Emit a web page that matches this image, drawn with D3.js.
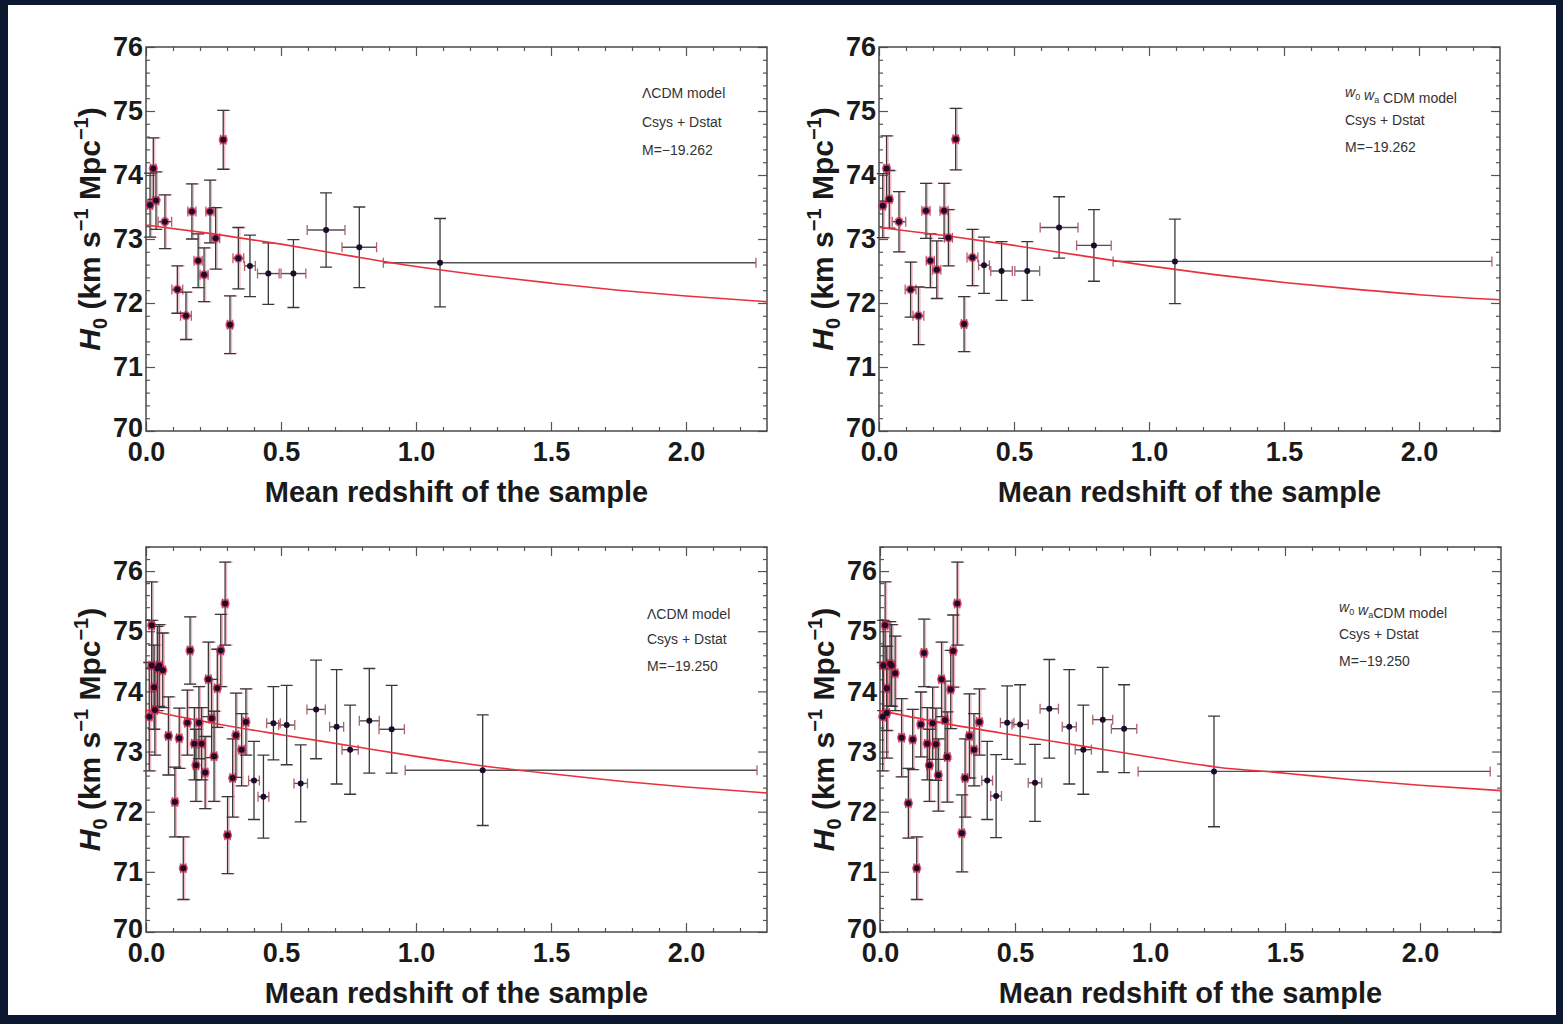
<!DOCTYPE html>
<html>
<head>
<meta charset="utf-8">
<script src="https://cdn.jsdelivr.net/npm/d3@7"></script>
<style>
body { margin: 0; background: #0b1830; }
svg { display: block; }
text { font-family: "Liberation Sans", Arial, sans-serif; }
.tick text { font-size: 27px; font-weight: bold; fill: #1a1a1a; font-family: "Liberation Sans", Arial, sans-serif; }
.tick line { stroke: #555; stroke-width: 1.2; }
.title { font-size: 29px; font-weight: bold; fill: #1a1a1a; }
.ytitle { font-size: 30px; font-weight: bold; fill: #1a1a1a; }
.note { font-size: 14px; fill: #333; }
</style>
</head>
<body>
<div id="chart"></div>
<script>
// tick labels
var xTicks = [0, 0.5, 1.0, 1.5, 2.0],
	yTicks = [70, 71, 72, 73, 74, 75, 76];

// model curve sample points
var curveZ = [0, 0.25, 0.5, 0.75, 1.0, 1.25, 1.5, 1.75, 2.0, 2.3];
var tlCurve = [73.22, 73.08, 72.92, 72.74, 72.57, 72.43, 72.31, 72.2, 72.11, 72.02];
var trCurve = [73.18, 73.05, 72.9, 72.74, 72.58, 72.44, 72.32, 72.22, 72.13, 72.05];
var blCurve = [73.69, 73.47, 73.28, 73.1, 72.92, 72.76, 72.63, 72.51, 72.41, 72.31];
var brCurve = [73.68, 73.46, 73.27, 73.09, 72.91, 72.74, 72.64, 72.53, 72.44, 72.35];

// top-left: LCDM, M=-19.262
var tlZ = [0.015, 0.027, 0.037, 0.07, 0.116, 0.148, 0.17, 0.193, 0.215, 0.237, 0.258, 0.286, 0.311, 0.342, 0.385, 0.453, 0.546, 0.667, 0.79, 1.089];
var tlH = [73.53, 74.1, 73.6, 73.27, 72.21, 71.8, 73.43, 72.66, 72.44, 73.43, 73.01, 74.55, 71.66, 72.7, 72.58, 72.46, 72.46, 73.14, 72.87, 72.63];
var tlErr = [0.5, 0.48, 0.45, 0.42, 0.37, 0.37, 0.43, 0.42, 0.42, 0.49, 0.48, 0.46, 0.45, 0.48, 0.48, 0.48, 0.53, 0.58, 0.63, 0.69];
var tlZlo = [0.01, 0.01, 0.01, 0.025, 0.02, 0.02, 0.015, 0.015, 0.015, 0.015, 0.015, 0.01, 0.01, 0.02, 0.02, 0.04, 0.046, 0.07, 0.064, 0.21];
var tlZhi = [0.01, 0.01, 0.01, 0.025, 0.02, 0.02, 0.015, 0.015, 0.015, 0.015, 0.015, 0.01, 0.01, 0.02, 0.02, 0.04, 0.046, 0.07, 0.064, 1.17];

// top-right: w0 wa CDM, M=-19.262
var trZ = [0.014, 0.028, 0.038, 0.074, 0.117, 0.146, 0.174, 0.19, 0.214, 0.241, 0.257, 0.284, 0.315, 0.346, 0.389, 0.454, 0.549, 0.667, 0.796, 1.096];
var trH = [73.52, 74.1, 73.62, 73.27, 72.21, 71.8, 73.44, 72.66, 72.52, 73.44, 73.02, 74.56, 71.67, 72.71, 72.59, 72.5, 72.5, 73.18, 72.9, 72.65];
var trErr = [0.5, 0.51, 0.45, 0.47, 0.43, 0.45, 0.43, 0.42, 0.45, 0.43, 0.44, 0.48, 0.43, 0.44, 0.44, 0.46, 0.46, 0.48, 0.56, 0.66];
var trZlo = [0.01, 0.01, 0.01, 0.025, 0.02, 0.02, 0.015, 0.015, 0.015, 0.015, 0.015, 0.01, 0.01, 0.02, 0.02, 0.04, 0.046, 0.07, 0.064, 0.229];
var trZhi = [0.01, 0.01, 0.01, 0.025, 0.02, 0.02, 0.015, 0.015, 0.015, 0.015, 0.015, 0.01, 0.01, 0.02, 0.02, 0.04, 0.046, 0.07, 0.064, 1.174];

// bottom-left: LCDM, M=-19.250
var blZ = [0.012, 0.021, 0.021, 0.03, 0.033, 0.042, 0.049, 0.062, 0.083, 0.107, 0.123, 0.138, 0.153, 0.163, 0.179, 0.185, 0.196, 0.206, 0.219, 0.231, 0.243, 0.252, 0.264, 0.277, 0.293, 0.302, 0.321, 0.333, 0.354, 0.37, 0.4, 0.435, 0.472, 0.521, 0.573, 0.63, 0.706, 0.756, 0.827, 0.91, 1.247];
var blH = [73.58, 75.1, 74.43, 74.07, 73.69, 74.38, 74.43, 74.35, 73.26, 72.16, 73.22, 71.06, 73.48, 74.68, 73.13, 72.77, 73.48, 73.13, 72.65, 74.2, 73.55, 72.92, 74.05, 74.68, 75.46, 71.61, 72.56, 73.27, 73.03, 73.49, 72.52, 72.25, 73.47, 73.44, 72.47, 73.7, 73.41, 73.03, 73.51, 73.37, 72.69];
var blErr = [0.9, 0.72, 0.75, 0.7, 0.75, 0.7, 0.68, 0.62, 0.65, 0.58, 0.5, 0.52, 0.54, 0.56, 0.6, 0.6, 0.6, 0.6, 0.6, 0.62, 0.65, 0.75, 0.65, 0.6, 0.69, 0.64, 0.65, 0.7, 0.6, 0.55, 0.65, 0.69, 0.61, 0.66, 0.64, 0.82, 0.95, 0.74, 0.87, 0.73, 0.92];
var blZlo = [0.01, 0.01, 0.01, 0.01, 0.01, 0.01, 0.01, 0.01, 0.01, 0.01, 0.01, 0.01, 0.01, 0.01, 0.01, 0.01, 0.01, 0.01, 0.01, 0.01, 0.01, 0.01, 0.01, 0.01, 0.01, 0.01, 0.01, 0.01, 0.01, 0.01, 0.02, 0.02, 0.025, 0.03, 0.025, 0.034, 0.026, 0.03, 0.037, 0.047, 0.287];
var blZhi = [0.01, 0.01, 0.01, 0.01, 0.01, 0.01, 0.01, 0.01, 0.01, 0.01, 0.01, 0.01, 0.01, 0.01, 0.01, 0.01, 0.01, 0.01, 0.01, 0.01, 0.01, 0.01, 0.01, 0.01, 0.01, 0.01, 0.01, 0.01, 0.01, 0.01, 0.02, 0.02, 0.025, 0.03, 0.025, 0.034, 0.026, 0.03, 0.037, 0.047, 1.016];

// bottom-right: w0 wa CDM, M=-19.250
var brZ = [0.01, 0.019, 0.012, 0.025, 0.025, 0.037, 0.043, 0.056, 0.08, 0.105, 0.121, 0.136, 0.151, 0.163, 0.175, 0.183, 0.195, 0.207, 0.216, 0.228, 0.241, 0.249, 0.262, 0.271, 0.286, 0.303, 0.315, 0.331, 0.348, 0.368, 0.397, 0.43, 0.471, 0.519, 0.574, 0.627, 0.701, 0.753, 0.825, 0.904, 1.237];
var brH = [73.58, 75.1, 74.43, 74.05, 73.64, 74.46, 74.43, 74.3, 73.23, 72.14, 73.2, 71.06, 73.45, 74.64, 73.13, 72.77, 73.47, 73.12, 72.61, 74.2, 73.52, 72.91, 74.03, 74.67, 75.46, 71.64, 72.56, 73.26, 73.03, 73.49, 72.52, 72.26, 73.48, 73.45, 72.48, 73.71, 73.41, 73.03, 73.53, 73.38, 72.67];
var brErr = [0.9, 0.72, 0.75, 0.7, 0.75, 0.7, 0.68, 0.62, 0.65, 0.58, 0.5, 0.52, 0.54, 0.56, 0.6, 0.6, 0.6, 0.6, 0.6, 0.62, 0.65, 0.75, 0.65, 0.6, 0.69, 0.64, 0.65, 0.7, 0.6, 0.55, 0.65, 0.69, 0.61, 0.66, 0.64, 0.82, 0.95, 0.74, 0.87, 0.73, 0.92];
var brZlo = blZlo.slice(0, 40).concat([0.281]);
var brZhi = blZhi.slice(0, 40).concat([1.023]);

// annotation lines ("_x" means subscript)
var tlNotes = ["\u039BCDM model", "Csys + Dstat", "M=\u221219.262"];
var trNotes = ["w_0 w_a CDM model", "Csys + Dstat", " M=\u221219.262"];
var blNotes = ["\u039BCDM model", "Csys + Dstat", "M=\u221219.250"];
var brNotes = ["w_0 w_aCDM model", "Csys + Dstat", "M=\u221219.250"];

var redCut = 0.38; // low-z points are drawn with the red marker underneath

var panels = [
	{left: 146, top: 47, w: 621, h: 384, yTop: 76, zs: tlZ, hs: tlH, err: tlErr, zlo: tlZlo, zhi: tlZhi, curve: tlCurve, notes: tlNotes, nx: 496, ny: [51, 80, 108]},
	{left: 879, top: 47, w: 621, h: 384, yTop: 76, zs: trZ, hs: trH, err: trErr, zlo: trZlo, zhi: trZhi, curve: trCurve, notes: trNotes, nx: 466, ny: [50, 78, 105]},
	{left: 146, top: 547, w: 621, h: 385, yTop: 76.4, zs: blZ, hs: blH, err: blErr, zlo: blZlo, zhi: blZhi, curve: blCurve, notes: blNotes, nx: 501, ny: [72, 97, 124]},
	{left: 880, top: 547, w: 621, h: 385, yTop: 76.4, zs: brZ, hs: brH, err: brErr, zlo: brZlo, zhi: brZhi, curve: brCurve, notes: brNotes, nx: 459, ny: [65, 92, 119]}
];

var svg = d3.select("#chart").append("svg")
	.attr("width", 1563)
	.attr("height", 1024);

svg.append("rect").attr("width", 1563).attr("height", 1024).attr("fill", "#0b1830");
svg.append("rect").attr("x", 8).attr("y", 5).attr("width", 1548).attr("height", 1010).attr("fill", "#fff");

panels.forEach(drawPanel);

function richText(el, str) {
	str.split(/(_\w)/).forEach(function(part) {
		if (!part) return;
		if (part[0] == "_") {
			el.append("tspan").attr("dy", 3).attr("font-size", 9).text(part.slice(1));
			el.append("tspan").attr("dy", -3).text("");
		} else if (part.trim()[0] == "w" && part.trim().length == 1) {
			el.append("tspan").attr("font-style", "italic").text(part);
		} else {
			el.append("tspan").text(part);
		}
	});
}

function drawPanel(p) {
	var g = svg.append("g")
		.attr("transform", "translate(" + p.left + "," + p.top + ")");

	var x = d3.scaleLinear().domain([0, 2.3]).range([0, p.w]),
		y = d3.scaleLinear().domain([70, p.yTop]).range([p.h, 0]);

	var minorX = d3.range(1, 23).map(function(i) { return i / 10; }).filter(function(v) { return Math.round(v * 10) % 5 != 0; }),
		minorY = d3.range(351, Math.floor(p.yTop * 5) + 1).map(function(i) { return i / 5; }).filter(function(v) { return Math.abs(v - Math.round(v)) > 1e-6; });

	function noDomain(s) { s.select(".domain").remove(); }

	// ticks point inward on all four sides
	g.append("g").attr("transform", "translate(0," + p.h + ")")
		.call(d3.axisBottom(x).tickValues(xTicks).tickFormat(d3.format(".1f")).tickSize(-9).tickPadding(11)).call(noDomain);
	g.append("g").attr("transform", "translate(0," + p.h + ")")
		.call(d3.axisBottom(x).tickValues(minorX).tickFormat("").tickSize(-4)).call(noDomain);
	g.append("g")
		.call(d3.axisTop(x).tickValues(xTicks).tickFormat("").tickSize(-9)).call(noDomain);
	g.append("g")
		.call(d3.axisTop(x).tickValues(minorX).tickFormat("").tickSize(-4)).call(noDomain);
	var yAxis = g.append("g")
		.call(d3.axisLeft(y).tickValues(yTicks).tickFormat(d3.format("d")).tickSize(-9).tickPadding(3)).call(noDomain);
	// the corner "70" sits a little above the axis, as in the original
	yAxis.selectAll(".tick text").filter(function(d) { return d == 70; }).attr("dy", "0.2em");
	g.append("g")
		.call(d3.axisLeft(y).tickValues(minorY).tickFormat("").tickSize(-4)).call(noDomain);
	g.append("g").attr("transform", "translate(" + p.w + ",0)")
		.call(d3.axisRight(y).tickValues(yTicks).tickFormat("").tickSize(-9)).call(noDomain);
	g.append("g").attr("transform", "translate(" + p.w + ",0)")
		.call(d3.axisRight(y).tickValues(minorY).tickFormat("").tickSize(-4)).call(noDomain);

	g.append("rect")
		.attr("width", p.w).attr("height", p.h)
		.attr("fill", "none").attr("stroke", "#4a4a4a").attr("stroke-width", 1.5);

	var pts = p.zs.map(function(z, i) {
		return {z: z, h: p.hs[i], e: p.err[i], lo: p.zlo[i], hi: p.zhi[i]};
	});
	var reds = pts.filter(function(d) { return d.z < redCut; });

	function barPath(d, dx) {
		var cx = x(d.z) + dx,
			y0 = y(d.h - d.e), y1 = y(d.h + d.e);
		return "M" + cx + "," + y0 + "V" + y1 +
			"M" + (cx - 6) + "," + y0 + "H" + (cx + 6) +
			"M" + (cx - 6) + "," + y1 + "H" + (cx + 6);
	}
	function hbarPath(d) {
		var cy = y(d.h), x0 = x(d.z - d.lo), x1 = x(d.z + d.hi);
		return "M" + x0 + "," + cy + "H" + x1;
	}
	function hcapPath(d) {
		var cy = y(d.h), x0 = x(d.z - d.lo), x1 = x(d.z + d.hi);
		return "M" + x0 + "," + (cy - 5) + "V" + (cy + 5) + "M" + x1 + "," + (cy - 5) + "V" + (cy + 5);
	}

	// faint red error bars under the low-z points
	g.append("g").selectAll("path").data(reds).enter().append("path")
		.attr("d", function(d) { return barPath(d, 1.5); })
		.attr("fill", "none").attr("stroke", "#e0506a").attr("stroke-opacity", 0.4).attr("stroke-width", 1.4);

	g.append("g").selectAll("path").data(pts).enter().append("path")
		.attr("d", hbarPath)
		.attr("fill", "none").attr("stroke", "#505050").attr("stroke-width", 1.4);
	g.append("g").selectAll("path").data(pts).enter().append("path")
		.attr("d", hcapPath)
		.attr("fill", "none").attr("stroke", "#b06070").attr("stroke-width", 1.3);
	g.append("g").selectAll("path").data(pts).enter().append("path")
		.attr("d", function(d) { return barPath(d, 0); })
		.attr("fill", "none").attr("stroke", "#383838").attr("stroke-width", 1.3);

	// model curve
	var line = d3.line()
		.x(function(d, i) { return x(curveZ[i]); })
		.y(function(d) { return y(d); })
		.curve(d3.curveMonotoneX);
	g.append("path").datum(p.curve)
		.attr("d", line)
		.attr("fill", "none").attr("stroke", "#e8303e").attr("stroke-width", 1.6);

	g.append("g").selectAll("circle").data(reds).enter().append("circle")
		.attr("cx", function(d) { return x(d.z); })
		.attr("cy", function(d) { return y(d.h); })
		.attr("r", 4.6)
		.attr("fill", "#d42048").attr("fill-opacity", 0.75);
	g.append("g").selectAll("circle").data(pts).enter().append("circle")
		.attr("cx", function(d) { return x(d.z); })
		.attr("cy", function(d) { return y(d.h); })
		.attr("r", 3)
		.attr("fill", "#1e0a2a");

	// axis titles
	g.append("text").attr("class", "title")
		.attr("x", p.w / 2).attr("y", p.h + 71)
		.attr("text-anchor", "middle")
		.text("Mean redshift of the sample");

	var yl = g.append("text").attr("class", "ytitle")
		.attr("text-anchor", "middle")
		.attr("transform", "translate(-46," + (p.h / 2 - 10) + ") rotate(-90)");
	yl.append("tspan").attr("font-style", "italic").text("H");
	yl.append("tspan").attr("font-size", 20).attr("dy", 7).text("0");
	yl.append("tspan").attr("dy", -7).text(" (km s");
	yl.append("tspan").attr("font-size", 20).attr("dy", -12).text("\u22121");
	yl.append("tspan").attr("dy", 12).text(" Mpc");
	yl.append("tspan").attr("font-size", 20).attr("dy", -12).text("\u22121");
	yl.append("tspan").attr("dy", 12).text(")");

	p.notes.forEach(function(n, i) {
		var t = g.append("text").attr("class", "note")
			.attr("x", p.nx).attr("y", p.ny[i]);
		richText(t, n);
	});
}
</script>
</body>
</html>
